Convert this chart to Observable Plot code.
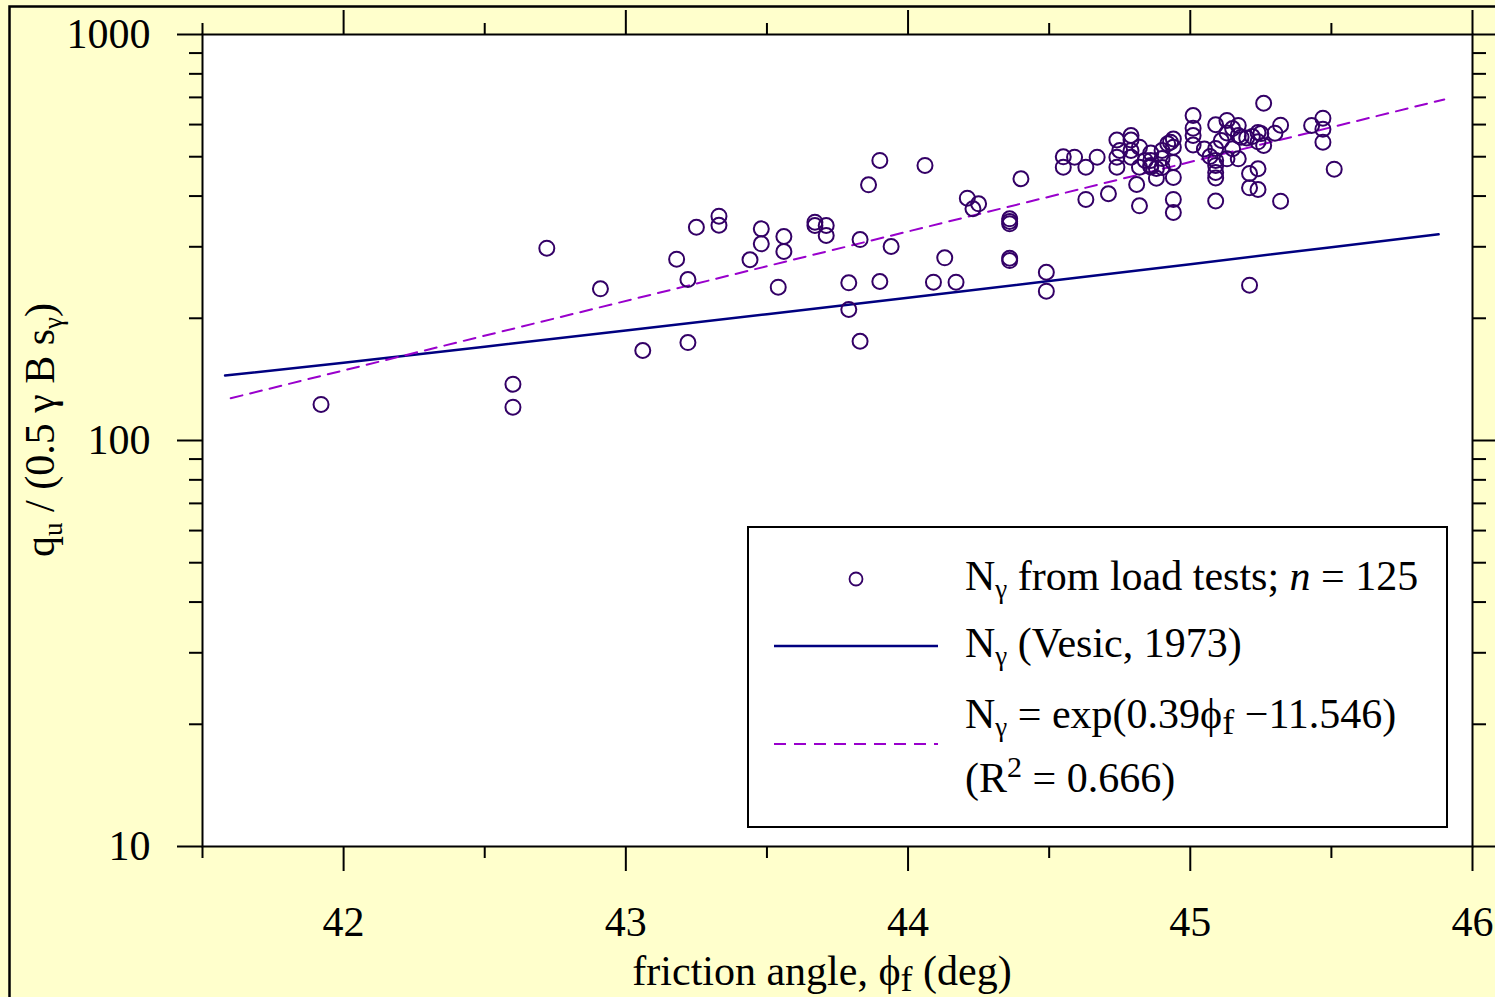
<!DOCTYPE html>
<html><head><meta charset="utf-8">
<script src="https://cdn.jsdelivr.net/npm/d3@7"></script>
<script src="https://cdn.jsdelivr.net/npm/@observablehq/plot@0.6"></script>
<style>
html,body{margin:0;padding:0;background:#ffffcc;overflow:hidden;}
#chart{position:relative;width:1495px;height:997px;}
text{white-space:pre;}
</style></head><body><div id="chart"></div>
<script>
// friction angle (deg) of each load test
const phi = [
41.92,42.60,42.60,42.72,42.91,43.06,43.18,43.22,43.22,43.25,
43.33,43.33,43.44,43.48,43.48,43.54,43.56,43.56,43.67,43.67,
43.71,43.71,43.79,43.79,43.83,43.83,43.86,43.90,43.90,43.94,
44.06,44.09,44.13,44.17,44.21,44.23,44.25,44.36,44.36,44.36,
44.36,44.40,44.49,44.49,44.55,44.55,44.59,44.63,44.67,44.63,
44.71,44.74,44.74,44.74,44.79,44.79,44.79,44.81,44.82,44.82,
44.82,44.86,44.86,44.86,44.88,44.90,44.90,44.92,44.94,44.94,
44.94,44.94,44.94,44.94,45.01,45.01,45.01,45.05,45.09,45.09,
45.09,45.09,45.09,45.09,45.13,45.13,45.17,45.17,45.15,45.17,
45.20,45.21,45.21,45.24,45.24,45.24,45.24,45.26,45.30,45.32,
45.32,45.21,45.43,45.47,45.47,45.47,45.51,44.86,44.90,45.13,
45.18,45.22,44.93,44.84,44.88,44.79,45.11,45.15,45.07,44.75,
45.01,45.26,45.25,44.36,45.09];
// measured N_gamma = q_u / (0.5 gamma B s_gamma)
const nGamma = [
122.7,137.6,120.8,297.6,236.4,166.6,279.6,249.2,174.3,335.2,
356.8,339.0,278.7,332.1,305.1,238.6,318.0,292.1,345.0,338.5,
338.5,319.8,244.6,210.2,312.6,175.6,426.4,489.5,246.4,300.5,
475.8,245.4,281.8,245.4,395.3,372.2,382.8,351.6,341.8,281.2,
277.5,441.2,259.7,233.2,499.8,471.3,498.6,471.3,498.6,392.4,
405.3,549.7,498.6,471.3,563.9,549.7,498.6,427.1,527.8,471.3,
378.5,510.7,489.5,471.7,442.7,495.0,470.5,538.0,552.8,527.8,
483.9,444.5,392.4,364.4,631.6,587.8,534.3,522.4,599.4,523.9,
489.5,457.2,443.2,389.0,614.2,572.1,597.0,563.9,523.2,494.1,
556.1,454.6,419.2,573.7,544.1,467.0,415.2,677.2,571.4,598.0,
388.5,241.3,597.0,622.2,584.5,542.9,465.9,475.8,518.0,494.1,
558.5,560.8,542.9,489.5,467.7,518.0,548.2,586.8,500.6,518.0,
563.9,533.2,570.0,346.3,475.8];
// Vesic (1973) curve
const vesicPhi = [41.58,42.0,42.5,43.0,43.5,44.0,44.5,45.0,45.5,45.88];
const vesicN   = [144.5,155.5,170.2,186.5,204.6,224.6,247.0,271.8,299.4,322.0];
// fitted exponential line, endpoints
const fitPhi = [41.60,45.90];
const fitN   = [127.1,691.8];
// ticks
const xMajor = [42,43,44,45,46];
const xMinor = [41.5,42.5,43.5,44.5,45.5];
const yMajor = [10,100,1000];
const yMinor = [20,30,40,50,60,70,80,90,200,300,400,500,600,700,800,900];

const points = phi.map((p,i)=>({phi:p, n:nGamma[i]}));
const vesic = vesicPhi.map((p,i)=>({phi:p, n:vesicN[i]}));
const fit = fitPhi.map((p,i)=>({phi:p, n:fitN[i]}));

const serif = "'Liberation Serif','Times New Roman',serif";
const FS = 42;
const axOpts = {label:null, strokeWidth:2, fontSize:FS, fontFamily:serif};
const noText = ()=>"";

const plot = Plot.plot({
  width:1495, height:997,
  marginLeft:202, marginRight:23, marginTop:34, marginBottom:151,
  style:{background:"transparent", fontFamily:serif, fontSize:FS+"px", color:"black", overflow:"visible"},
  x:{domain:[41.5,46]},
  y:{type:"log", domain:[10,1000]},
  marks:[
    Plot.frame({fill:"white", stroke:null}),
    Plot.line(vesic,{x:"phi", y:"n", stroke:"#000080", strokeWidth:2.5}),
    Plot.line(fit,{x:"phi", y:"n", stroke:"#9900cc", strokeWidth:2, strokeDasharray:"12,8"}),
    Plot.dot(points,{x:"phi", y:"n", r:7.5, stroke:"#330066", strokeWidth:2, fill:"none"}),
    Plot.axisX({...axOpts, anchor:"bottom", ticks:xMajor, tickSize:25, tickPadding:35, tickFormat:d=>String(d)}),
    Plot.axisX({...axOpts, anchor:"bottom", ticks:xMinor, tickSize:12, tickFormat:noText}),
    Plot.axisX({...axOpts, anchor:"top", ticks:xMajor, tickSize:25, tickFormat:noText}),
    Plot.axisX({...axOpts, anchor:"top", ticks:xMinor, tickSize:12, tickFormat:noText}),
    Plot.axisY({...axOpts, anchor:"left", ticks:yMajor, tickSize:25, tickPadding:27, tickFormat:d=>String(d)}),
    Plot.axisY({...axOpts, anchor:"left", ticks:yMinor, tickSize:13, tickFormat:noText}),
    Plot.axisY({...axOpts, anchor:"right", ticks:yMajor, tickSize:25, tickFormat:noText}),
    Plot.axisY({...axOpts, anchor:"right", ticks:yMinor, tickSize:13, tickFormat:noText}),
    Plot.frame({stroke:"black", strokeWidth:2})
  ]
});
document.getElementById("chart").appendChild(plot);

const svg = d3.select(plot);
// outer figure border
svg.insert("rect",":first-child").attr("x",9.5).attr("y",6.5).attr("width",1600).attr("height",1100)
  .attr("fill","none").attr("stroke","black").attr("stroke-width",2.5);

function rich(g, x, y, parts, anchor){
  const t = g.append("text").attr("x",x).attr("y",y).attr("font-family",serif).attr("font-size",FS)
    .attr("fill","black").attr("text-anchor", anchor || "start");
  let shift = 0;
  for (const p of parts){
    const target = p.dy || 0;
    const ts = t.append("tspan").text(p.t).attr("dy", target - shift);
    shift = target;
    if (p.size) ts.attr("font-size", p.size);
    if (p.italic) ts.attr("font-style","italic");
  }
  return t;
}
const subG = {t:"γ", size:27, dy:8};

// axis titles
rich(svg, 822, 985, [{t:"friction angle, ϕ"},{t:"f", size:36, dy:6},{t:" (deg)"}], "middle");
const yl = svg.append("g").attr("transform","translate(54,430) rotate(-90)");
rich(yl, 0, 0, [{t:"q"},{t:"u", size:27, dy:8},{t:" / (0.5 γ B s"},subG,{t:")"}], "middle");

// legend
const lg = svg.append("g");
lg.append("rect").attr("x",748).attr("y",527).attr("width",699).attr("height",300)
  .attr("fill","white").attr("stroke","black").attr("stroke-width",2);
lg.append("circle").attr("cx",856).attr("cy",579).attr("r",6.5).attr("fill","none").attr("stroke","#330066").attr("stroke-width",1.8);
lg.append("line").attr("x1",774).attr("x2",938).attr("y1",646).attr("y2",646).attr("stroke","#000080").attr("stroke-width",2.5);
lg.append("line").attr("x1",774).attr("x2",938).attr("y1",744).attr("y2",744).attr("stroke","#9900cc").attr("stroke-width",2).attr("stroke-dasharray","12,8");
rich(lg, 965, 590, [{t:"N"},subG,{t:" from load tests; "},{t:"n", italic:true},{t:" = 125"}]);
rich(lg, 965, 657, [{t:"N"},subG,{t:" (Vesic, 1973)"}]);
rich(lg, 965, 728, [{t:"N"},subG,{t:" = exp(0.39ϕ"},{t:"f", size:36, dy:6},{t:" −11.546)"}]);
rich(lg, 965, 792, [{t:"(R"},{t:"2", size:30, dy:-15},{t:" = 0.666)"}]);
</script></body></html>
